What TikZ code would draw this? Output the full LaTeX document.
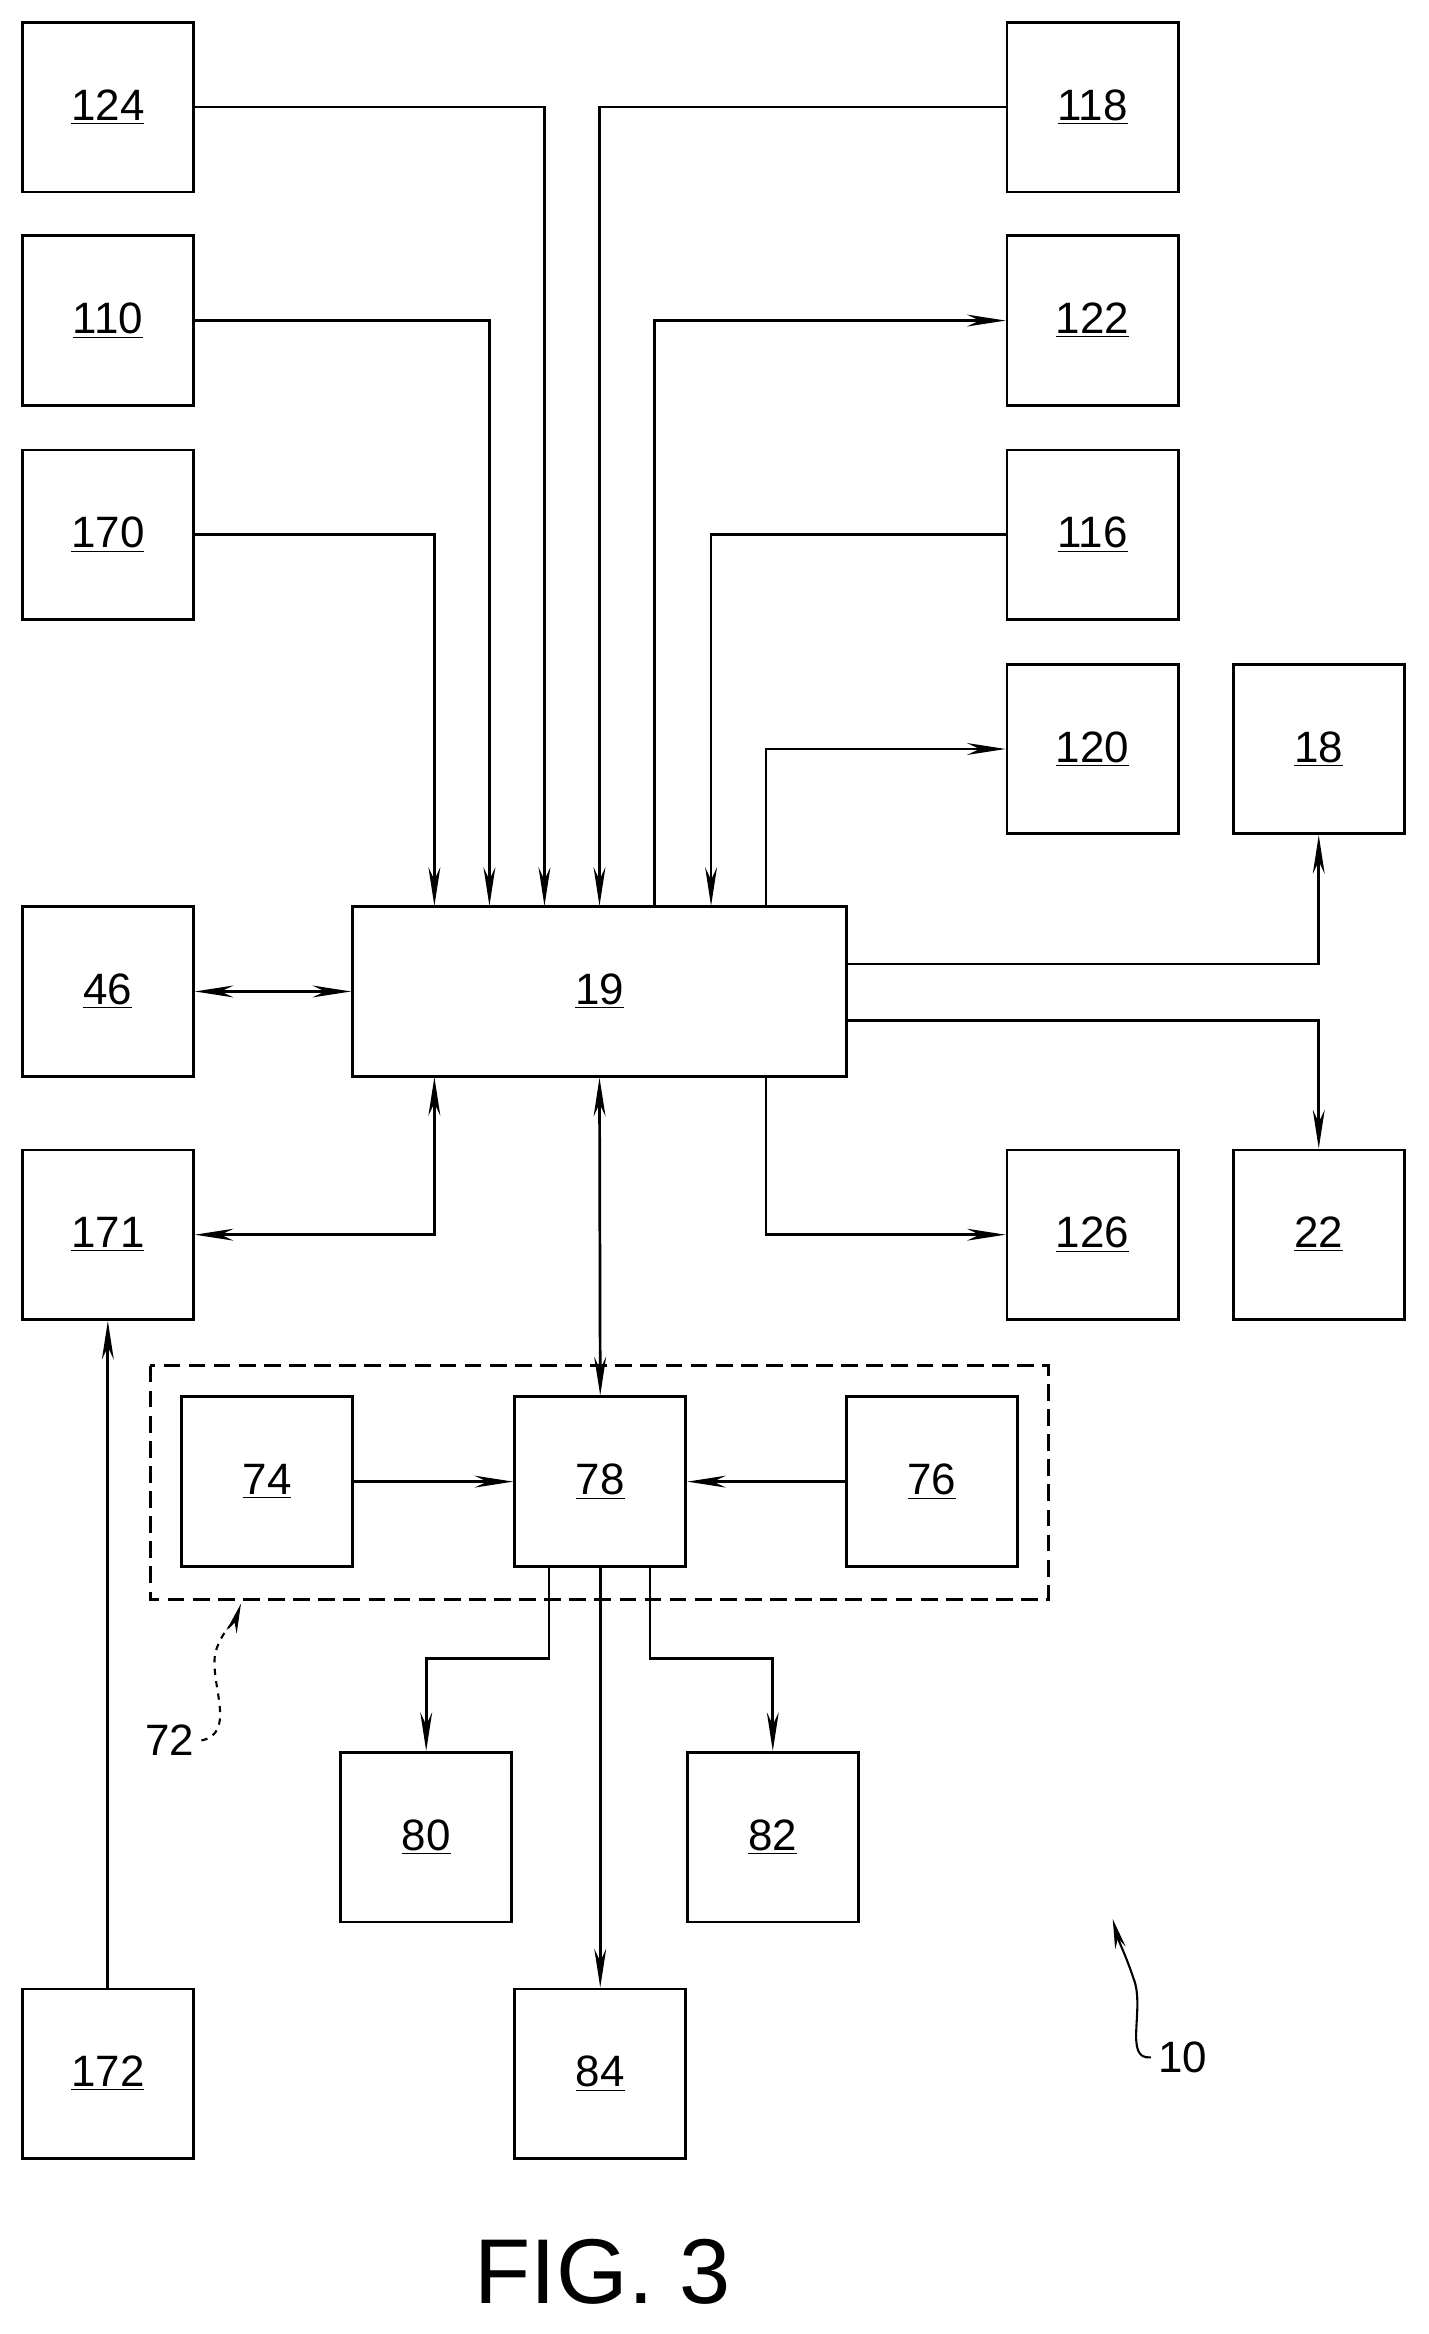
\documentclass[tikz,border=0pt]{standalone}
\usepackage{fontspec}
\setmainfont{Liberation Sans}
\usetikzlibrary{arrows.meta,decorations.pathmorphing}
\begin{document}
\begin{tikzpicture}[x=0.025cm,y=-0.025cm,
  bx/.style={draw,line width=1.3pt,minimum width=2.875cm,minimum height=2.85cm,inner sep=0pt,font=\fontsize{21}{24}\selectfont},
  ar/.style={line width=1.3pt,-{Stealth[length=0.65cm,width=0.2cm]}},
  dar/.style={line width=1.3pt,{Stealth[length=0.65cm,width=0.2cm]}-{Stealth[length=0.65cm,width=0.2cm]}},
  ln/.style={line width=1.3pt}]
\useasboundingbox (0,0) rectangle (960,1569);
\node[bx] (n124) at (72.5,72) {\underline{124}};
\node[bx] (n110) at (72.5,215.5) {\underline{110}};
\node[bx] (n170) at (72.5,359.5) {\underline{170}};
\node[bx] (n118) at (734.5,72) {\underline{118}};
\node[bx] (n122) at (734.5,215.5) {\underline{122}};
\node[bx] (n116) at (734.5,359.5) {\underline{116}};
\node[bx] (n120) at (734.5,503.5) {\underline{120}};
\node[bx] (n18) at (886.5,503.5) {\underline{18}};
\node[bx,minimum width=8.3cm] (n19) at (403,666.5) {\underline{19}};
\node[bx] (n46) at (72.5,666.5) {\underline{46}};
\node[bx] (n171) at (72.5,830) {\underline{171}};
\node[bx] (n126) at (734.5,830) {\underline{126}};
\node[bx] (n22) at (886.5,830) {\underline{22}};
\draw[ln,dashed,dash pattern=on 8pt off 4pt] (101,918) rectangle (705,1075);
\node[bx] (n74) at (179.5,996) {\underline{74}};
\node[bx] (n78) at (403.5,996) {\underline{78}};
\node[bx] (n76) at (626.5,996) {\underline{76}};
\node[bx] (n80) at (286.5,1235) {\underline{80}};
\node[bx] (n82) at (519.5,1235) {\underline{82}};
\node[bx] (n84) at (403.5,1394) {\underline{84}};
\node[bx] (n172) at (72.5,1394) {\underline{172}};
% inputs
\draw[ar] (n124.east) -| (366,609);
\draw[ar] (n110.east) -| (329,609);
\draw[ar] (n170.east) -| (292,609);
\draw[ar] (n118.west) -| (403,609);
\draw[ar] (n116.west) -| (478,609);
\draw[ar] (440,609) |- (n122.west);
\draw[ar] (515,609) |- (n120.west);
\draw[ar] (569,648) -| (n18.south);
\draw[ar] (569,686) -| (n22.north);
\draw[ar] (515,724) |- (n126.west);
\draw[dar] (n46.east) -- (n19.west);
\draw[dar] (292,724) |- (n171.east);
\draw[dar] (n19.south) -- (n78.north);
\draw[ar] (n74.east) -- (n78.west);
\draw[ar] (n76.west) -- (n78.east);
\draw[ar] (369,1053) -- (369,1115) -| (n80.north);
\draw[ar] (437,1053) -- (437,1115) -| (n82.north);
\draw[ar] (403.5,1053) -- (n84.north);
\draw[ar] (n172.north) -- (n171.south);
% labels
\node[font=\fontsize{21}{24}\selectfont] (l72) at (114,1170) {72};
\draw[line width=1pt,dashed,-{Stealth[length=0.5cm,width=0.18cm]}] (l72.east) .. controls (160,1165) and (140,1130) .. (145,1110) .. controls (150,1095) and (158,1090) .. (162,1078);
\node[font=\fontsize{21}{24}\selectfont] (l10) at (795,1383) {10};
\draw[line width=1pt,-{Stealth[length=0.5cm,width=0.18cm]}] (l10.west) .. controls (755,1385) and (770,1350) .. (762,1330) .. controls (757,1315) and (752,1305) .. (748,1290);
\node[font=\fontsize{44}{50}\selectfont] (fig) at (405,1527) {FIG. 3};
\end{tikzpicture}
\end{document}
